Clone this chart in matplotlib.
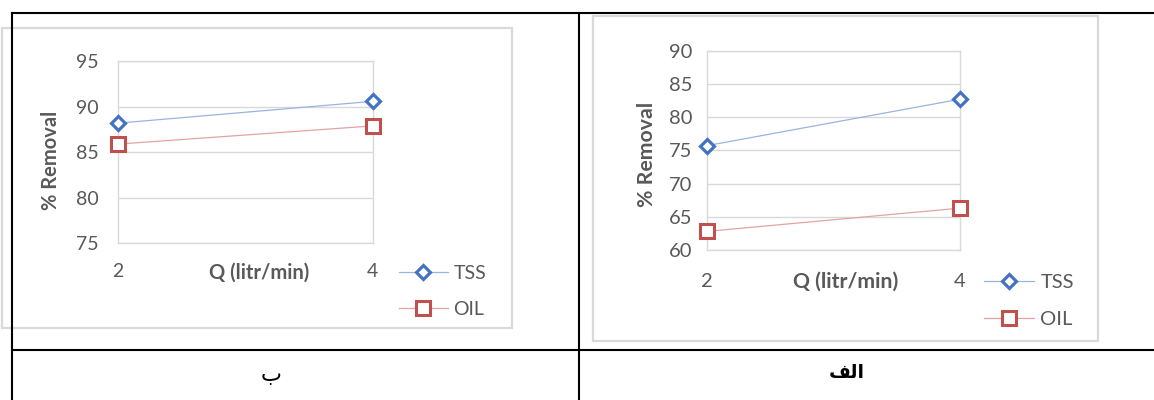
import matplotlib
matplotlib.use("Agg")
import matplotlib.pyplot as plt
from matplotlib.patches import Rectangle
from matplotlib.lines import Line2D

# ---- data -------------------------------------------------------------
q_flow = [2, 4]                      # flow rate, litr/min
series_names = ["TSS", "OIL"]

# panel "ب"
tss_b = [88.2, 90.6]
oil_b = [85.9, 87.9]
yticks_b = [75, 80, 85, 90, 95]

# panel "الف"
tss_alef = [75.7, 82.7]
oil_alef = [62.8, 66.3]
yticks_alef = [60, 65, 70, 75, 80, 85, 90]

x_title = "Q (litr/min)"
y_title = "% Removal"
caption_b = "ب"
# "الف" written with Arabic presentation forms in visual order (no shaping engine)
caption_alef = "\uFED2\uFEDF\uFE8D"

# ---- style --------------------------------------------------------------
W, H = 1154, 400
FONT = "Lato"
TEXT_GREY = "#595959"
GRID_GREY = "#d9d9d9"
BLUE_EDGE = "#4472C4"
BLUE_LINE = "#9ab4e0"
RED_EDGE = "#C0504D"
RED_LINE = "#e3a3a2"

plt.rcParams["font.family"] = [FONT, "DejaVu Sans"]

fig = plt.figure(figsize=(W / 100, H / 100), dpi=100)
fig.patch.set_facecolor("white")


def fx(x):
    return x / W


def fy(y):
    return 1 - y / H


def rect_from_px(x0, y0, x1, y1):
    return [fx(x0), fy(y1), (x1 - x0) / W, (y1 - y0) / H]


def draw_panel(frame, axes_box, tss, oil, yticks, tick_size, title_size,
               ypad, xpad, xlabel_xy, ylabel_xy, legend_xy, legend_gap):
    # chart-area frame
    x0, y0, x1, y1 = frame
    fig.add_artist(Rectangle((fx(x0), fy(y1)), (x1 - x0) / W, (y1 - y0) / H,
                             transform=fig.transFigure, facecolor="white",
                             edgecolor=GRID_GREY, linewidth=1.6, zorder=0))

    ax = fig.add_axes(rect_from_px(*axes_box))
    ax.set_facecolor("white")
    ln_tss, = ax.plot(q_flow, tss, color=BLUE_LINE, linewidth=0.9,
                      marker="D", markersize=7.0, markerfacecolor="white",
                      markeredgecolor=BLUE_EDGE, markeredgewidth=2.3,
                      clip_on=False, zorder=3)
    ln_oil, = ax.plot(q_flow, oil, color=RED_LINE, linewidth=0.9,
                      marker="s", markersize=9.6, markerfacecolor="white",
                      markeredgecolor=RED_EDGE, markeredgewidth=2.2,
                      clip_on=False, zorder=3)

    ax.set_xlim(q_flow[0], q_flow[-1])
    ax.set_ylim(yticks[0], yticks[-1])
    ax.set_yticks(yticks)
    ax.set_xticks(q_flow)
    ax.grid(axis="y", color=GRID_GREY, linewidth=1.0)
    ax.set_axisbelow(True)
    for sp in ax.spines.values():
        sp.set_color(GRID_GREY)
        sp.set_linewidth(1.0)
    ax.tick_params(axis="y", length=0, pad=ypad, labelsize=tick_size,
                   labelcolor=TEXT_GREY)
    ax.tick_params(axis="x", length=0, pad=xpad, labelsize=tick_size,
                   labelcolor=TEXT_GREY)

    ax.set_xlabel(x_title, fontsize=title_size, fontweight="bold",
                  color=TEXT_GREY)
    ax.xaxis.label.set_va("center")
    ax.xaxis.set_label_coords(fx(xlabel_xy[0]), fy(xlabel_xy[1]),
                              transform=fig.transFigure)
    ax.set_ylabel(y_title, fontsize=title_size, fontweight="bold",
                  color=TEXT_GREY)
    ax.yaxis.label.set_va("center")
    ax.yaxis.set_label_coords(fx(ylabel_xy[0]), fy(ylabel_xy[1]),
                              transform=fig.transFigure)

    fig.legend([ln_tss, ln_oil], series_names, loc="center left",
               bbox_to_anchor=(fx(legend_xy[0]), fy(legend_xy[1])),
               bbox_transform=fig.transFigure, frameon=False,
               borderpad=0, borderaxespad=0, handlelength=2.5,
               handletextpad=0.3, labelspacing=legend_gap,
               fontsize=tick_size, labelcolor=TEXT_GREY)
    return ax


# panel "ب" (left cell)
draw_panel(frame=(2, 28, 512, 327.5), axes_box=(117.7, 61.3, 372.7, 243.3),
           tss=tss_b, oil=oil_b, yticks=yticks_b, tick_size=14,
           title_size=14.5, ypad=14.0, xpad=14.5, xlabel_xy=(259, 273),
           ylabel_xy=(51, 160), legend_xy=(399, 291.5), legend_gap=1.0)

# panel "الف" (right cell)
draw_panel(frame=(592.7, 15.5, 1097.7, 341), axes_box=(706.7, 50.7, 960, 250),
           tss=tss_alef, oil=oil_alef, yticks=yticks_alef, tick_size=14.5,
           title_size=15.3, ypad=10.5, xpad=16.5, xlabel_xy=(845.5, 282),
           ylabel_xy=(647, 154), legend_xy=(984, 301), legend_gap=1.03)

# table rules
rule = dict(color="black", linewidth=1.5, transform=fig.transFigure, zorder=10)
fig.add_artist(Line2D([fx(12), 1], [fy(13), fy(13)], **rule))
fig.add_artist(Line2D([fx(12), 1], [fy(350), fy(350)], **rule))
fig.add_artist(Line2D([fx(12), fx(12)], [fy(13), 0], **rule))
fig.add_artist(Line2D([fx(579), fx(579)], [fy(13), 0], **rule))

# captions under each chart
fig.text(fx(271), fy(375), caption_b, ha="center", va="center", fontsize=16,
         family=["DejaVu Sans"], color="black")
fig.text(fx(847), fy(372), caption_alef, ha="center", va="center",
         fontsize=13.5, fontweight="bold", family=["DejaVu Sans"],
         color="black")

fig.savefig("out.png", dpi=100, facecolor="white")
